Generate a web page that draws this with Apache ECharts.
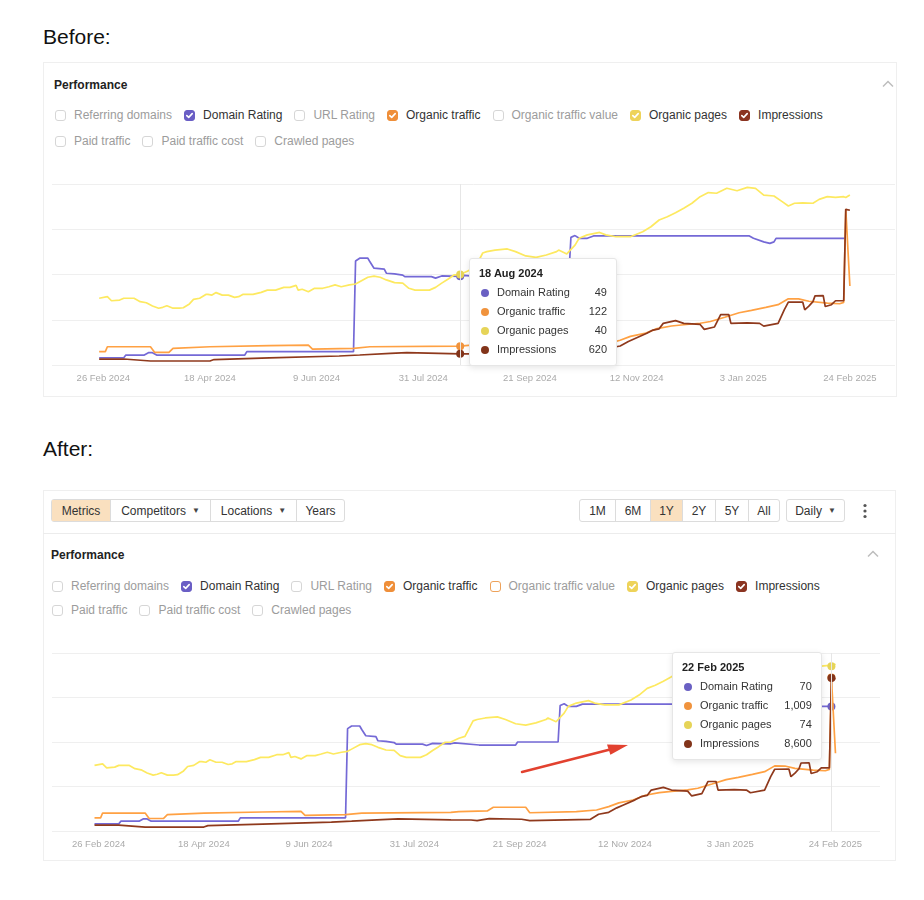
<!DOCTYPE html>
<html>
<head>
<meta charset="utf-8">
<script src="https://cdn.jsdelivr.net/npm/echarts@6/dist/echarts.min.js"></script>
<style>
body { margin: 0; background: #fff; font-family: "Liberation Sans", Arial, sans-serif; }
#page { position: relative; width: 924px; height: 900px; overflow: hidden; }
.abs { position: absolute; }
.heading { font-size: 21px; line-height: 22px; color: #111; }
.card { border: 1px solid #efefef; box-sizing: border-box; }
.title { font-size: 12px; font-weight: bold; color: #222; line-height: 16px; }
.row { display: flex; align-items: center; font-size: 12px; line-height: 14px; white-space: nowrap; }
.item { display: flex; align-items: center; margin-right: 12px; color: #9c9c9c; }
.item.on { color: #333; }
.box { width: 11px; height: 11px; border: 1px solid #d6d6d6; border-radius: 3px; box-sizing: border-box; margin-right: 8px; display: flex; align-items: center; justify-content: center; }
.btns { display: flex; height: 23px; border: 1px solid #dcdcdc; border-radius: 3px; box-sizing: border-box; font-size: 12px; color: #333; }
.btns div { display: flex; align-items: center; justify-content: center; border-right: 1px solid #dcdcdc; box-sizing: border-box; }
.btns div:last-child { border-right: none; }
.sel { background: #fae0bf; }
.caret { font-size: 8px; margin-left: 6px; color: #444; }
</style>
</head>
<body>
<div id="page">
  <div class="abs heading" style="left:43px;top:26px">Before:</div>
  <div class="abs card" style="left:43px;top:62px;width:854px;height:335px"></div>
  <div class="abs title" style="left:54px;top:77px">Performance</div>
  <svg class="abs" style="left:882px;top:80px" width="12" height="8"><polyline points="1,6.5 6,1.5 11,6.5" fill="none" stroke="#bdbdbd" stroke-width="1.5"/></svg>
  <div class="abs row" id="b1" style="left:55px;top:108px"></div>
  <div class="abs row" id="b2" style="left:55px;top:134px"></div>
  <div class="abs" id="before" style="left:0;top:160px;width:924px;height:240px"></div>

  <div class="abs heading" style="left:43px;top:438px">After:</div>
  <div class="abs card" style="left:43px;top:490px;width:853px;height:371px"></div>
  <div class="abs btns" style="left:51px;top:499px">
    <div class="sel" style="width:59px">Metrics</div>
    <div style="width:100px">Competitors<span class="caret">&#9660;</span></div>
    <div style="width:86px">Locations<span class="caret">&#9660;</span></div>
    <div style="width:47px">Years</div>
  </div>
  <div class="abs btns" style="left:579px;top:499px">
    <div style="width:36px">1M</div>
    <div style="width:35px">6M</div>
    <div class="sel" style="width:32px">1Y</div>
    <div style="width:33px">2Y</div>
    <div style="width:33px">5Y</div>
    <div style="width:30px">All</div>
  </div>
  <div class="abs btns" style="left:786px;top:499px">
    <div style="width:57px">Daily<span class="caret">&#9660;</span></div>
  </div>
  <svg class="abs" style="left:862px;top:503px" width="6" height="16"><circle cx="3" cy="2.5" r="1.6" fill="#555"/><circle cx="3" cy="8" r="1.6" fill="#555"/><circle cx="3" cy="13.5" r="1.6" fill="#555"/></svg>
  <div class="abs" style="left:43px;top:533px;width:853px;height:1px;background:#ececec"></div>
  <div class="abs title" style="left:51px;top:547px">Performance</div>
  <svg class="abs" style="left:867px;top:550px" width="12" height="8"><polyline points="1,6.5 6,1.5 11,6.5" fill="none" stroke="#bdbdbd" stroke-width="1.5"/></svg>
  <div class="abs row" id="a1" style="left:52px;top:579px"></div>
  <div class="abs row" id="a2" style="left:52px;top:603px"></div>
  <div class="abs" id="after" style="left:0;top:630px;width:924px;height:230px"></div>
</div>
<script>
const months = ["Jan", "Feb", "Mar", "Apr", "May", "Jun", "Jul", "Aug", "Sep", "Oct", "Nov", "Dec"];

// x axis tick labels
const tickDates = ["2024-02-26", "2024-04-18", "2024-06-09", "2024-07-31", "2024-09-21", "2024-11-12", "2025-01-03", "2025-02-24"];

// checkbox rows
const metricRow1 = ["Referring domains", "Domain Rating", "URL Rating", "Organic traffic", "Organic traffic value", "Organic pages", "Impressions"];
const metricRow2 = ["Paid traffic", "Paid traffic cost", "Crawled pages"];
const checkedColors = {
  "Domain Rating": "#6a5ec5",
  "Organic traffic": "#ef8f3a",
  "Organic pages": "#eed35a",
  "Impressions": "#8b3421",
};

// series values
const domainRating = [
  ["2024-02-24", 4], ["2024-03-07", 4], ["2024-03-08", 5.5], ["2024-03-17", 5.5], ["2024-03-19", 6.8], ["2024-03-21", 6.8],
  ["2024-03-23", 5.5], ["2024-05-05", 5.5], ["2024-05-06", 7.4], ["2024-06-27", 7.4], ["2024-06-28", 57.5], ["2024-06-30", 59],
  ["2024-07-04", 59], ["2024-07-05", 57], ["2024-07-07", 53.5], ["2024-07-12", 53], ["2024-07-13", 50.7], ["2024-07-17", 50.3],
  ["2024-07-21", 49.7], ["2024-07-22", 48.8], ["2024-08-04", 48.8], ["2024-08-06", 48], ["2024-08-09", 49.2], ["2024-08-18", 49],
  ["2024-08-20", 49.5], ["2024-09-01", 48.3], ["2024-09-19", 48.3], ["2024-09-20", 50], ["2024-10-10", 50], ["2024-10-11", 70.5],
  ["2024-10-13", 71.5], ["2024-10-15", 70], ["2024-10-19", 70], ["2024-10-22", 71.3], ["2025-01-06", 71.3], ["2025-01-08", 70],
  ["2025-01-13", 68], ["2025-01-16", 67.2], ["2025-01-18", 68], ["2025-01-19", 70], ["2025-02-22", 70],
];
const organicTraffic = [
  ["2024-02-24", 86], ["2024-02-27", 86], ["2024-02-28", 118], ["2024-03-20", 118], ["2024-03-22", 82], ["2024-03-29", 82],
  ["2024-03-31", 108], ["2024-04-18", 118], ["2024-05-17", 125], ["2024-06-05", 129], ["2024-06-07", 103], ["2024-06-27", 108],
  ["2024-07-05", 118], ["2024-08-18", 122], ["2024-08-22", 127], ["2024-09-05", 132], ["2024-09-08", 156], ["2024-09-24", 156],
  ["2024-09-26", 120], ["2024-10-19", 127], ["2024-10-29", 138], ["2024-11-04", 160], ["2024-11-09", 185], ["2024-11-16", 204],
  ["2024-11-22", 235], ["2024-11-29", 252], ["2024-12-05", 260], ["2024-12-13", 270], ["2024-12-18", 281], ["2024-12-25", 309],
  ["2025-01-01", 338], ["2025-01-07", 353], ["2025-01-14", 372], ["2025-01-20", 390], ["2025-01-25", 428], ["2025-01-30", 427],
  ["2025-02-04", 412], ["2025-02-13", 400], ["2025-02-19", 396], ["2025-02-21", 405], ["2025-02-22", 1009], ["2025-02-24", 511],
];
const organicPages = [
  ["2024-02-24", 29.5], ["2024-02-28", 30.2], ["2024-03-01", 28.4], ["2024-03-05", 28.7], ["2024-03-07", 29.5], ["2024-03-12", 29.5],
  ["2024-03-15", 28], ["2024-03-18", 27.5], ["2024-03-21", 26.1], ["2024-03-24", 25.1], ["2024-03-26", 25.5], ["2024-03-28", 26.2],
  ["2024-03-31", 25.1], ["2024-04-03", 25.1], ["2024-04-05", 25.3], ["2024-04-08", 27], ["2024-04-10", 29], ["2024-04-13", 29.5],
  ["2024-04-16", 31.2], ["2024-04-17", 31.2], ["2024-04-19", 30.9], ["2024-04-21", 32], ["2024-04-24", 30.9], ["2024-04-27", 30.9],
  ["2024-04-30", 29.9], ["2024-05-02", 30.2], ["2024-05-04", 31.2], ["2024-05-09", 31.2], ["2024-05-13", 32.1], ["2024-05-16", 33.1],
  ["2024-05-20", 33.1], ["2024-05-24", 34.3], ["2024-05-27", 34.3], ["2024-05-30", 35.2], ["2024-05-31", 33.1], ["2024-06-02", 33.5],
  ["2024-06-05", 32.4], ["2024-06-08", 33.9], ["2024-06-12", 33.9], ["2024-06-15", 34.6], ["2024-06-18", 35.4], ["2024-06-21", 34.6],
  ["2024-06-25", 35.4], ["2024-06-28", 35.8], ["2024-06-30", 36.8], ["2024-07-04", 38.8], ["2024-07-07", 39.3], ["2024-07-10", 38.8],
  ["2024-07-13", 37.6], ["2024-07-17", 36.4], ["2024-07-21", 36.2], ["2024-07-24", 33.9], ["2024-07-27", 33.1], ["2024-08-03", 33.1],
  ["2024-08-06", 34.3], ["2024-08-09", 36.2], ["2024-08-12", 37.9], ["2024-08-15", 39.8], ["2024-08-18", 40], ["2024-08-22", 41.7],
  ["2024-08-25", 42.5], ["2024-08-29", 49.5], ["2024-08-31", 50.1], ["2024-09-04", 50.8], ["2024-09-10", 51.3], ["2024-09-14", 50.1],
  ["2024-09-19", 48.2], ["2024-09-24", 47.6], ["2024-09-29", 48.6], ["2024-10-04", 50.1], ["2024-10-05", 50.8], ["2024-10-09", 49.1],
  ["2024-10-10", 50.1], ["2024-10-13", 53], ["2024-10-15", 56], ["2024-10-19", 57.5], ["2024-10-25", 58.6], ["2024-10-28", 57.5],
  ["2024-11-02", 56.7], ["2024-11-09", 56.7], ["2024-11-15", 58.9], ["2024-11-19", 61.1], ["2024-11-23", 64.1], ["2024-11-27", 65.5],
  ["2024-12-01", 67.3], ["2024-12-05", 69.3], ["2024-12-09", 71.5], ["2024-12-13", 74.4], ["2024-12-17", 76.2], ["2024-12-21", 75.9],
  ["2024-12-26", 78.1], ["2024-12-31", 77], ["2025-01-05", 78.5], ["2025-01-09", 78.1], ["2025-01-13", 75.1], ["2025-01-18", 74.7],
  ["2025-01-22", 72.2], ["2025-01-25", 70.3], ["2025-01-28", 71.5], ["2025-02-01", 71.7], ["2025-02-06", 71.5], ["2025-02-09", 73.2],
  ["2025-02-13", 74.4], ["2025-02-17", 74.1], ["2025-02-21", 74.4], ["2025-02-22", 74], ["2025-02-24", 75.1],
];
const impressions = [
  ["2024-02-24", 330], ["2024-03-07", 330], ["2024-03-20", 221], ["2024-04-18", 221], ["2024-04-20", 300], ["2024-05-17", 390],
  ["2024-06-20", 497], ["2024-06-30", 552], ["2024-07-15", 644], ["2024-07-23", 680], ["2024-08-18", 620], ["2024-08-28", 618],
  ["2024-08-31", 580], ["2024-09-06", 700], ["2024-09-22", 660], ["2024-09-26", 580], ["2024-10-26", 655], ["2024-10-30", 940],
  ["2024-11-04", 1050], ["2024-11-08", 1300], ["2024-11-11", 1450], ["2024-11-17", 1750], ["2024-11-20", 1930], ["2024-11-23", 2000],
  ["2024-11-25", 2300], ["2024-12-01", 2450], ["2024-12-05", 2300], ["2024-12-13", 2240], ["2024-12-15", 1970], ["2024-12-20", 2100],
  ["2024-12-23", 2780], ["2024-12-27", 2780], ["2024-12-28", 2300], ["2025-01-05", 2330], ["2025-01-11", 2300], ["2025-01-13", 2150],
  ["2025-01-20", 2300], ["2025-01-23", 3050], ["2025-01-25", 3470], ["2025-02-01", 3480], ["2025-02-02", 3050], ["2025-02-04", 3250],
  ["2025-02-06", 3500], ["2025-02-07", 3820], ["2025-02-11", 3830], ["2025-02-12", 3230], ["2025-02-15", 3330], ["2025-02-17", 3550],
  ["2025-02-21", 3550], ["2025-02-22", 8600], ["2025-02-24", 8550],
];

const metricSeries = [
  { name: "Domain Rating", data: domainRating, color: "#6a60c3", max: 100 },
  { name: "Organic traffic", data: organicTraffic, color: "#f0933d", max: 1170 },
  { name: "Organic pages", data: organicPages, color: "#e6d458", max: 80 },
  { name: "Impressions", data: impressions, color: "#82341a", max: 10000 },
];

function ts(s) {
  const p = s.split("-").map(Number);
  return new Date(p[0], p[1] - 1, p[2]).getTime();
}
function fmtDate(v) {
  const d = new Date(typeof v === "string" ? ts(v) : v);
  return d.getDate() + " " + months[d.getMonth()] + " " + d.getFullYear();
}

const tick = '<svg width="9" height="9" viewBox="0 0 9 9"><path d="M1.8 4.6 L3.7 6.4 L7.2 2.6" stroke="#fff" stroke-width="1.6" fill="none" stroke-linecap="round" stroke-linejoin="round"/></svg>';
function fillRow(id, names, hover) {
  document.getElementById(id).innerHTML = names.map(n => {
    const c = checkedColors[n];
    let boxStyle = c ? "background:" + c + ";border-color:" + c : "";
    if (hover && n === hover) boxStyle = "border-color:#eea25a;border-width:1.5px";
    return '<div class="item' + (c ? " on" : "") + '"><span class="box" style="' + boxStyle + '">' + (c ? tick : "") + "</span>" + n + "</div>";
  }).join("");
}
fillRow("b1", metricRow1);
fillRow("b2", metricRow2);
fillRow("a1", metricRow1, "Organic traffic value");
fillRow("a2", metricRow2);

function buildChart(id, cfg) {
  const chart = echarts.init(document.getElementById(id));
  const yAxis = metricSeries.map((m, i) => i === 0 ? {
    type: "value", min: 0, max: m.max, interval: 25,
    axisLabel: { show: false }, axisLine: { show: false }, axisTick: { show: false },
    splitLine: { lineStyle: { color: "#efefef", width: 1 } },
  } : { type: "value", min: 0, max: m.max, show: false, splitLine: { show: false } });

  const series = metricSeries.map((m, i) => ({
    name: m.name,
    type: "line",
    yAxisIndex: i,
    data: m.data.map(p => [ts(p[0]), p[1]]),
    showSymbol: false,
    symbol: "circle",
    symbolSize: 8,
    z: 2 + i,
    lineStyle: { color: m.color, width: 1.7 },
    itemStyle: { color: m.color },
    emphasis: { scale: false, lineStyle: { width: 1.7 } },
    animation: false,
  }));

  const option = {
    animation: false,
    grid: cfg.grid,
    xAxis: {
      type: "value",
      min: ts(cfg.min),
      max: ts(cfg.max),
      axisLine: { show: false },
      axisTick: { show: false },
      splitLine: { show: false },
      axisLabel: {
        customValues: tickDates.map(ts),
        formatter: v => fmtDate(v),
        color: "#ababab",
        fontSize: 9.5,
        margin: 8,
        fontFamily: "Liberation Sans, Arial, sans-serif",
      },
    },
    yAxis: yAxis,
    tooltip: {
      trigger: "axis",
      triggerOn: "none",
      alwaysShowContent: true,
      transitionDuration: 0,
      backgroundColor: "#fff",
      borderColor: "#e6e6e6",
      borderWidth: 1,
      padding: [7, 9, 6, 9],
      extraCssText: "box-shadow:0 2px 6px rgba(0,0,0,0.10);border-radius:3px;font-family:Liberation Sans, Arial, sans-serif;",
      axisPointer: { type: "line", animation: false, label: { show: false }, lineStyle: { color: "#e6e6e6", width: 1, type: "solid" } },
      position: cfg.position,
      formatter: params => {
        let h = '<div style="font-weight:bold;font-size:11px;line-height:14px;color:#222;margin-bottom:3px">' + fmtDate(params[0].value[0]) + "</div>";
        params.forEach(p => {
          h += '<div style="display:flex;align-items:center;font-size:11px;line-height:19px;color:#333;min-width:' + cfg.tipWidth + 'px">' +
            '<span style="display:inline-block;width:8px;height:8px;border-radius:50%;background:' + p.color + ';margin:0 8px 0 2px"></span>' +
            "<span>" + p.seriesName + '</span><span style="margin-left:auto;padding-left:16px">' + p.value[1].toLocaleString("en-US") + "</span></div>";
        });
        return h;
      },
    },
    graphic: cfg.graphic || [],
    series: series,
  };
  chart.setOption(option);
  const idx = domainRating.findIndex(p => p[0] === cfg.tipDate);
  chart.dispatchAction({ type: "showTip", seriesIndex: 0, dataIndex: idx });
  return chart;
}

buildChart("before", {
  grid: { left: 52, right: 29, top: 24, bottom: 35 },
  min: "2024-02-01",
  max: "2025-03-18",
  tipDate: "2024-08-18",
  tipWidth: 128,
  position: point => [point[0] + 9, 98],
});

// red annotation arrow on the "after" chart
const arrowRed = "#e2412f";
buildChart("after", {
  grid: { left: 52, right: 44, top: 23, bottom: 29 },
  min: "2024-02-03",
  max: "2025-03-18",
  tipDate: "2025-02-22",
  tipWidth: 120,
  position: (point, params, dom, rect, size) => [point[0] - size.contentSize[0] - 9, 22],
  graphic: [
    { type: "line", z: 100, shape: { x1: 522, y1: 142, x2: 612, y2: 119 }, style: { stroke: arrowRed, lineWidth: 2.5, lineCap: "round" } },
    { type: "polygon", z: 100, shape: { points: [[628, 115], [607, 114.6], [610.4, 124.8]] }, style: { fill: arrowRed } },
  ],
});
</script>
</body>
</html>
